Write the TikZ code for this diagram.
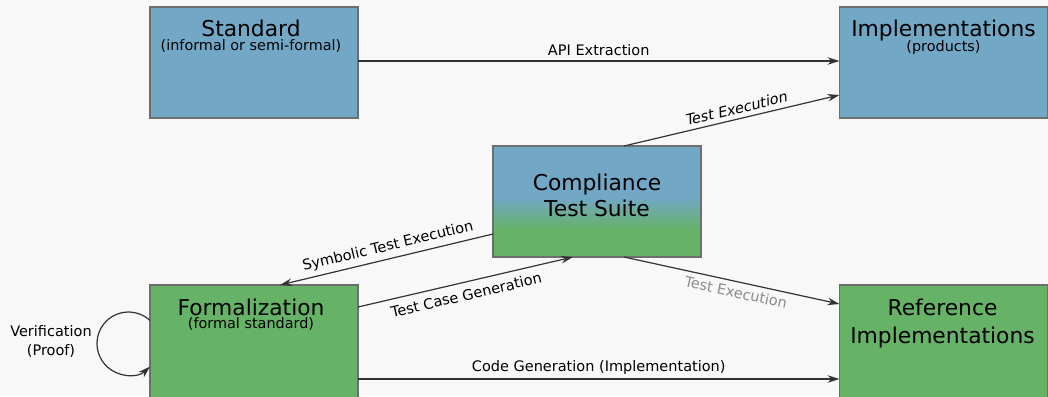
\documentclass[tikz,border=0pt]{standalone}
\usepackage{fontspec}
\setmainfont{DejaVu Sans}
\newfontfamily\obliquefont{DejaVu Sans}[FakeSlant=0.2]
\usetikzlibrary{arrows.meta,calc}

\definecolor{bg}{HTML}{F8F8F8}
\definecolor{boxblue}{HTML}{72A7C6}
\definecolor{boxgreen}{HTML}{66B266}
\definecolor{boxline}{HTML}{6E6E6E}
\definecolor{wire}{HTML}{333333}
\definecolor{faint}{HTML}{8C8C8C}

% blue on top, fading into green towards the bottom of the box
\pgfdeclareverticalshading{suiteshade}{100bp}{color(0bp)=(boxgreen); color(37bp)=(boxgreen); color(52bp)=(boxblue); color(100bp)=(boxblue)}

\begin{document}
\begin{tikzpicture}[x=1pt,y=-1pt,
  box/.style={draw=boxline, line width=1.6pt, minimum width=208pt,
              minimum height=111pt, inner sep=0pt, outer sep=0pt},
  bluebox/.style={box, fill=boxblue},
  greenbox/.style={box, fill=boxgreen, minimum height=113pt},
  ttl/.style={font=\fontsize{21.8}{26}\selectfont, inner sep=0pt, anchor=base},
  sub/.style={font=\fontsize{14.4}{17}\selectfont, inner sep=0pt, anchor=base},
  lbl/.style={font=\fontsize{14.5}{17}\selectfont, inner sep=1.5pt},
  wire/.style={draw=wire, line width=1.2pt,
               -{Stealth[length=12pt,width=7.5pt,inset=4pt]}},
]
\fill[bg] (0,0) rectangle (1048,396);
\useasboundingbox (0,0) rectangle (1048,396);
\clip (0,0) rectangle (1048,396);

% boxes
\node[bluebox] (std) at (254,62.5) {};
\node[bluebox] (impl) at (943.5,62.5) {};
\node[box, shade, shading=suiteshade] (cts) at (597,201.5) {};
\node[greenbox] (form) at (254,341.5) {};
\node[greenbox] (ref) at (943.5,341.5) {};

% box texts
\node[ttl] (std-t) at ($(std.north)+(-3,30)$) {Standard};
\node[sub] (std-s) at ($(std.north)+(-3,43.5)$) {(informal or semi-formal)};
\node[ttl] (impl-t) at ($(impl.north)+(0,30)$) {Implementations};
\node[sub] (impl-s) at ($(impl.north)+(0,44.5)$) {(products)};
\node[ttl] (cts-t1) at ($(cts.north)+(0,44)$) {Compliance};
\node[ttl] (cts-t2) at ($(cts.north)+(0,70)$) {Test Suite};
\node[ttl] (form-t) at ($(form.north)+(-3,30)$) {Formalization};
\node[sub] (form-s) at ($(form.north)+(-3,43)$) {(formal standard)};
\node[ttl] (ref-t1) at ($(ref.north)+(-1,30)$) {Reference};
\node[ttl] (ref-t2) at ($(ref.north)+(-1,58)$) {Implementations};

% connectors
\draw[wire] ($(std.east)+(0,-1.5)$) -- node[lbl, above=3pt] (api-l) {API Extraction} ($(impl.west)+(0,-1.5)$);
\draw[wire] ($(cts.north)+(27,0)$) -- node[lbl, pos=0.53, sloped, above=3pt, font=\fontsize{14.5}{17}\selectfont\obliquefont] (te1-l) {Test Execution} ($(impl.west)+(0,32.5)$);
\draw[wire] ($(cts.west)+(0,32.5)$) -- node[lbl, pos=0.48, sloped, above=3pt] (ste-l) {Symbolic Test Execution} ($(form.north)+(26,0)$);
\draw[wire] ($(form.north east)+(0,22)$) -- node[lbl, pos=0.49, sloped, below=5pt] (tcg-l) {Test Case Generation} ($(cts.south)+(-24,0)$);
\draw[wire] ($(cts.south)+(27,0)$) -- node[lbl, pos=0.53, sloped, below=3pt, text=faint] (te2-l) {Test Execution} ($(ref.north west)+(0,19)$);
\draw[wire] ($(form.south east)+(0,-19)$) -- node[lbl, above=2pt] (cg-l) {Code Generation (Implementation)} ($(ref.south west)+(0,-19)$);

% self loop
\draw[wire] ($(form.west)+(0,-21)$) arc[start angle=47, end angle=313, radius=31.5pt];
\node[lbl, align=center, font=\fontsize{14.5}{18.5}\selectfont] (ver-l) at (51,341.4) {Verification\\(Proof)};
\end{tikzpicture}
\end{document}
